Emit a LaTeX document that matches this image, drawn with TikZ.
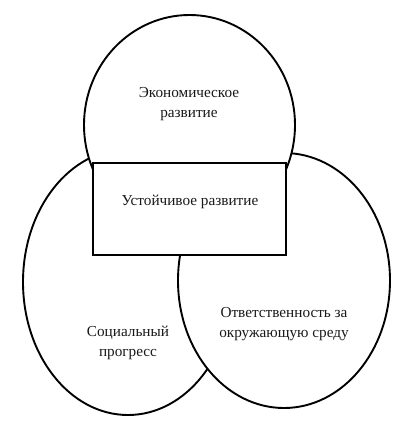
\documentclass[tikz,border=0pt]{standalone}
\usepackage{fontspec}
\setmainfont{Liberation Serif}
\usetikzlibrary{shapes.geometric}

\tikzset{
    circ/.style={ellipse, draw, fill=white, line width=1.9pt, inner sep=0pt},
    core/.style={rectangle, draw, fill=white, line width=2.5pt, inner sep=0pt},
    lbl/.style={align=center, text=black!90, font={\fontsize{15.3}{20}\selectfont}}
}

\begin{document}
\begin{tikzpicture}[x=1bp, y=-1bp]
    \useasboundingbox (0,0) rectangle (409,429);

    % three spheres
    \node[circ, minimum width=210bp, minimum height=266bp] (social) at (128,282) {};
    \node[circ, minimum width=212bp, minimum height=255bp] (ecology) at (284,280.5) {};
    \node[circ, minimum width=211bp, minimum height=220bp] (economy) at (189.5,125) {};

    % centre box
    \node[core, minimum width=193bp, minimum height=92bp] (sustain) at (189.5,209) {};

    \node[lbl] (economyText) at (189,104) {Экономическое\\развитие};
    \node[lbl] (sustainText) at (190,202) {Устойчивое развитие};
    \node[lbl] (socialText) at (128,343) {Социальный\\прогресс};
    \node[lbl] (ecologyText) at (284,324) {Ответственность за\\окружающую среду};

\end{tikzpicture}
\end{document}
